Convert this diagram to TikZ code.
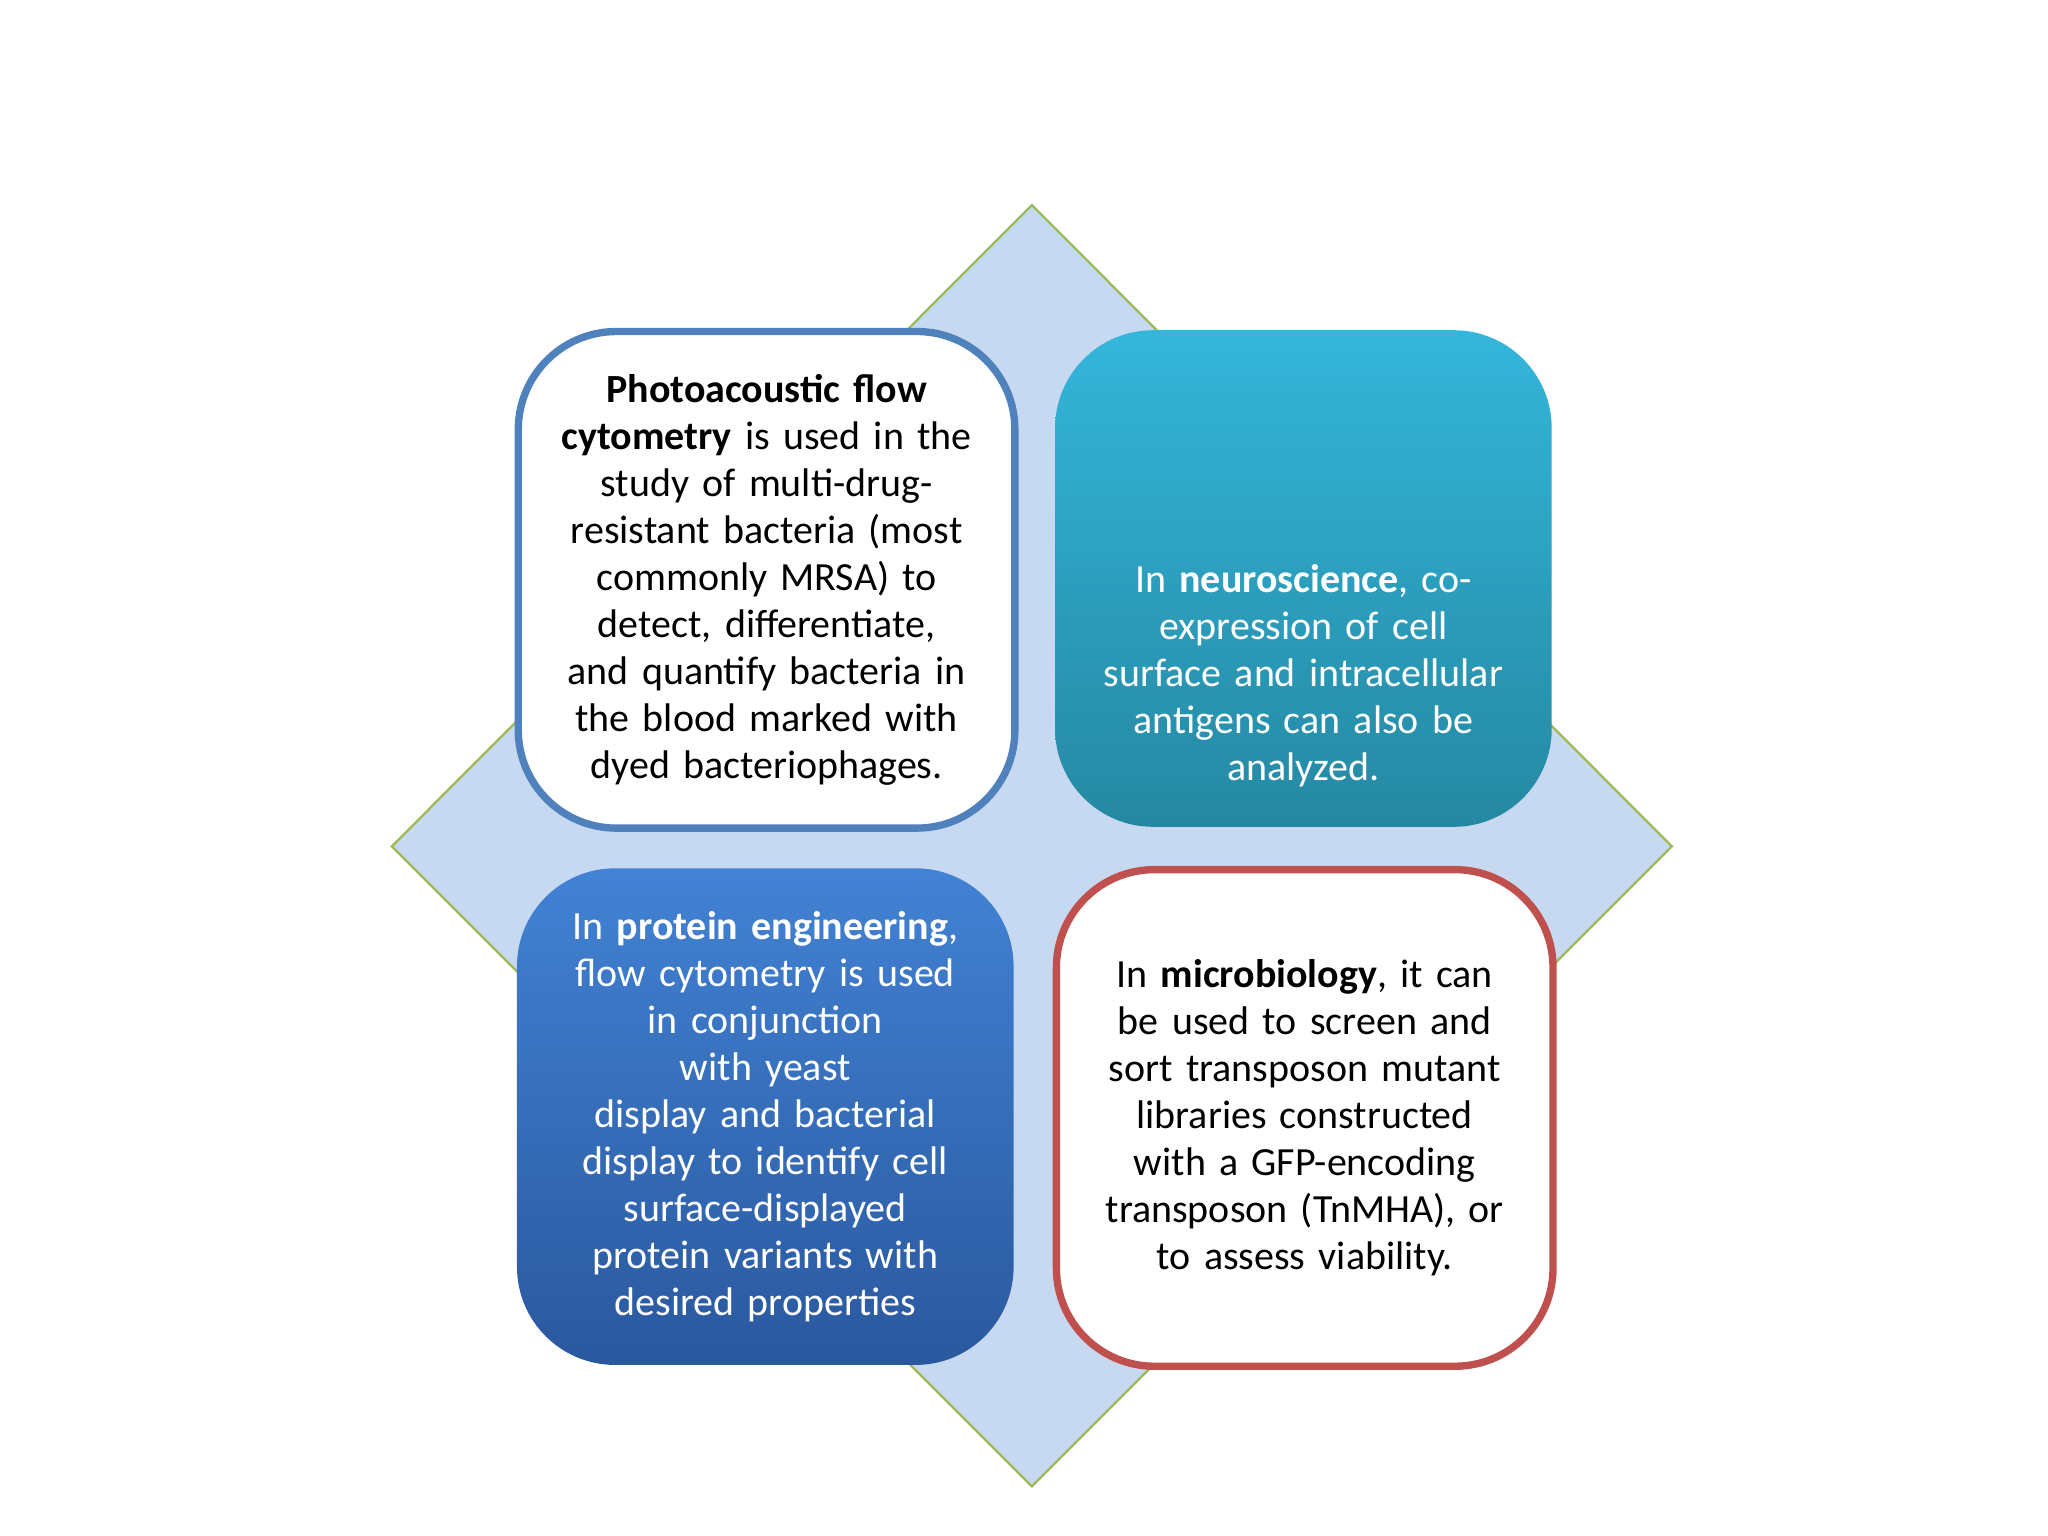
\documentclass[tikz,border=0pt]{standalone}
\usepackage{fontspec}
\setmainfont{Carlito}
\definecolor{dia}{RGB}{198,217,241}
\definecolor{diae}{RGB}{155,187,89}
\definecolor{tlb}{RGB}{79,129,189}
\definecolor{trt}{RGB}{52,182,218}
\definecolor{trb}{RGB}{37,136,162}
\definecolor{blt}{RGB}{66,130,212}
\definecolor{blb}{RGB}{42,88,158}
\definecolor{brb}{RGB}{192,80,77}
\begin{document}
\begin{tikzpicture}[x=0.01cm,y=-0.01cm,
 box/.style={rounded corners=0.75cm,line width=1.6pt,minimum width=3.8cm,minimum height=3.8cm,text width=3.6cm,align=center,font=\fontsize{8.7}{10.25}\selectfont,inner sep=0pt,anchor=north west}]
\useasboundingbox (0,0) rectangle (1568,1176);
\fill[dia,draw=diae,line width=0.5pt] (790,157) -- (1280,648) -- (790,1138) -- (300,648) -- cycle;
\node[box,draw=tlb,fill=white] (tl) at (394,251) {\textbf{Photoacoustic flow}\\\textbf{cytometry} is used in the\\study of multi-drug-\\resistant bacteria (most\\commonly MRSA) to\\detect, differentiate,\\and quantify bacteria in\\the blood marked with\\dyed bacteriophages.};
\node[box,draw=none,top color=trt,bottom color=trb,text=white,text depth=0pt] (tr) at (805,250) {In \textbf{neuroscience}, co-\\expression of cell\\surface and intracellular\\antigens can also be\\analyzed.\\[1.1cm]};
\node[box,draw=none,top color=blt,bottom color=blb,text=white] (bl) at (393,662) {In \textbf{protein engineering},\\flow cytometry is used\\in conjunction\\with yeast\\display and bacterial\\display to identify cell\\surface-displayed\\protein variants with\\desired properties};
\node[box,draw=brb,fill=white] (br) at (806,663) {In \textbf{microbiology}, it can\\be used to screen and\\sort transposon mutant\\libraries constructed\\with a GFP-encoding\\transposon (TnMHA), or\\to assess viability.};
\end{tikzpicture}
\end{document}
